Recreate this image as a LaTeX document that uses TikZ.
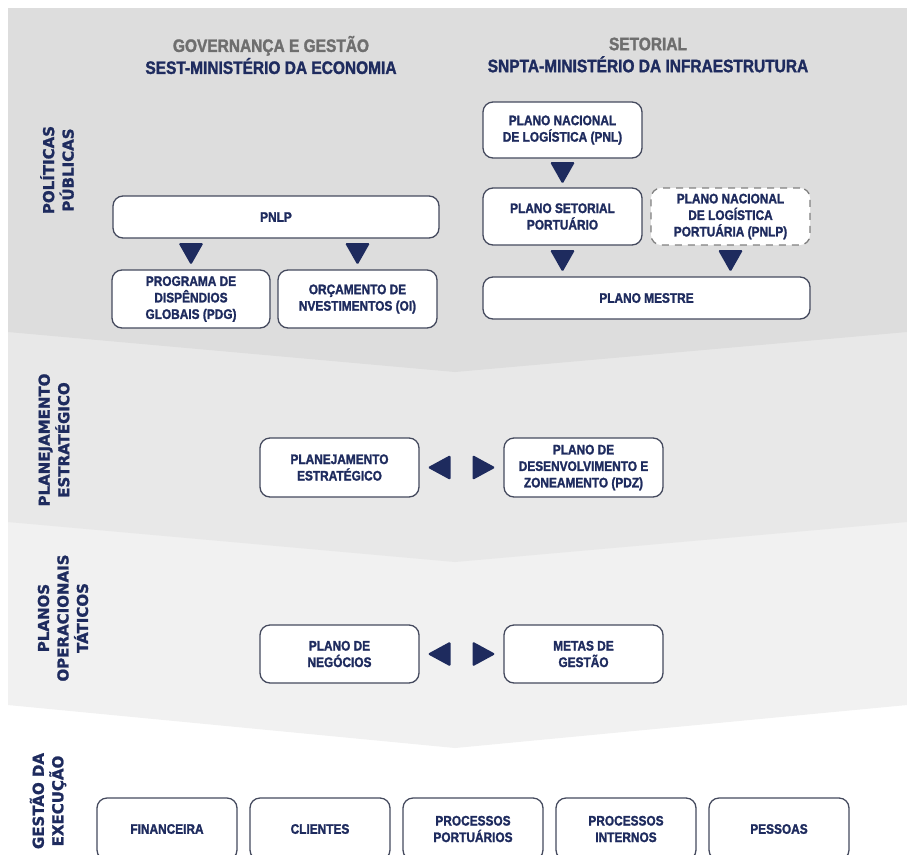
\documentclass[tikz,border=0pt]{standalone}
\usepackage{fontspec}
\setmainfont{Liberation Sans}
\newfontfamily\condfont[FakeStretch=0.86, FakeBold=1.6]{Liberation Sans Bold}
\newfontfamily\widefont[FakeBold=1.4]{DejaVu Sans Bold}
\usetikzlibrary{calc}

\definecolor{navy}{HTML}{1E2B5E}
\definecolor{boxline}{HTML}{454A5E}
\definecolor{headgrey}{HTML}{6E6E6E}
\definecolor{bandA}{HTML}{DDDDDD}
\definecolor{bandB}{HTML}{E8E8E8}
\definecolor{bandC}{HTML}{F1F1F1}

\tikzset{
  box/.style={draw=boxline, line width=1.3pt, fill=white, rounded corners=10pt,
    align=center, inner sep=0pt, text=navy,
    font=\condfont\fontsize{13.8}{16.5}\selectfont},
  dashbox/.style={box, draw=gray, dash pattern=on 7pt off 6pt},
  tri/.style={fill=navy, rounded corners=1.5pt},
  side/.style={rotate=90, align=center, text=navy,
    font=\widefont\fontsize{15}{19.5}\selectfont},
  head/.style={align=center, text=navy,
    font=\condfont\fontsize{18}{22}\selectfont},
}

\begin{document}
\begin{tikzpicture}[x=1pt, y=-1pt]
    % page and bands
    \useasboundingbox (0,0) rectangle (907,854);
    \clip (0,0) rectangle (907,854);
    \fill[white] (0,0) rectangle (907,854);
    \fill[bandC] (8,480) -- (907,480) -- (907,705) -- (455,748) -- (8,705) -- cycle;
    \fill[bandB] (8,300) -- (907,300) -- (907,522) -- (455,562) -- (8,522) -- cycle;
    \fill[bandA] (8,8) -- (907,8) -- (907,332) -- (455,372) -- (8,332) -- cycle;

    % column headers
    \node[head] (govhead) at (271,55) {{\color{headgrey}GOVERNANÇA E GESTÃO}\\SEST-MINISTÉRIO DA ECONOMIA};
    \node[head] (sethead) at (648,55) {{\color{headgrey}SETORIAL}\\SNPTA-MINISTÉRIO DA INFRAESTRUTURA};

    % row labels
    \node[side] (lblpol) at (57,170) {POLÍTICAS\\PÚBLICAS};
    \node[side] (lblplan) at (54,440) {PLANEJAMENTO\\ESTRATÉGICO};
    \node[side] (lblop) at (63,618) {PLANOS\\OPERACIONAIS\\TÁTICOS};
    \node[side] (lblgest) at (48,801) {GESTÃO DA\\EXECUÇÃO};

    % politicas publicas, left
    \node[box, minimum width=326pt, minimum height=42pt] (pnlp) at (276,217) {PNLP};
    \node[box, minimum width=158pt, minimum height=58pt] (pdg) at (191,299) {PROGRAMA DE\\DISPÊNDIOS\\GLOBAIS (PDG)};
    \node[box, minimum width=159pt, minimum height=58pt] (oi) at (357.5,299) {ORÇAMENTO DE\\NVESTIMENTOS (OI)};

    % politicas publicas, right
    \node[box, minimum width=159pt, minimum height=56pt] (pnl) at (562.5,130) {PLANO NACIONAL\\DE LOGÍSTICA (PNL)};
    \node[box, minimum width=159pt, minimum height=57pt] (pso) at (562.5,216.5) {PLANO SETORIAL\\PORTUÁRIO};
    \node[dashbox, minimum width=159pt, minimum height=57pt] (pnlpd) at (730.5,216.5) {PLANO NACIONAL\\DE LOGÍSTICA\\PORTUÁRIA (PNLP)};
    \node[box, minimum width=327pt, minimum height=42pt] (mestre) at (646.5,298) {PLANO MESTRE};

    % planejamento and planos
    \node[box, minimum width=159pt, minimum height=59pt] (pe) at (339.5,467.5) {PLANEJAMENTO\\ESTRATÉGICO};
    \node[box, minimum width=159pt, minimum height=59pt] (pdz) at (583.5,467.5) {PLANO DE\\DESENVOLVIMENTO E\\ZONEAMENTO (PDZ)};
    \node[box, minimum width=159pt, minimum height=58pt] (pneg) at (339.5,654) {PLANO DE\\NEGÓCIOS};
    \node[box, minimum width=159pt, minimum height=58pt] (metas) at (583.5,654) {METAS DE\\GESTÃO};

    % gestao da execucao
    \node[box, minimum width=140pt, minimum height=62pt] (fin) at (167,829) {FINANCEIRA};
    \node[box, minimum width=140pt, minimum height=62pt] (cli) at (320,829) {CLIENTES};
    \node[box, minimum width=140pt, minimum height=62pt] (pport) at (473,829) {PROCESSOS\\PORTUÁRIOS};
    \node[box, minimum width=140pt, minimum height=62pt] (pint) at (626,829) {PROCESSOS\\INTERNOS};
    \node[box, minimum width=140pt, minimum height=62pt] (pes) at (779,829) {PESSOAS};

    % down arrows
    \fill[tri] ($(pdg.north)!0.5!(pdg.north |- pnlp.south)$) ++(-12.5,-11) -- ++(25,0) -- ++(-12.5,22) -- cycle;
    \fill[tri] ($(oi.north)!0.5!(oi.north |- pnlp.south)$) ++(-12.5,-11) -- ++(25,0) -- ++(-12.5,22) -- cycle;
    \fill[tri] ($(pnl.south)!0.5!(pso.north)$) ++(-12.5,-11) -- ++(25,0) -- ++(-12.5,22) -- cycle;
    \fill[tri] ($(pso.south)!0.5!(pso.south |- mestre.north)$) ++(-12.5,-11) -- ++(25,0) -- ++(-12.5,22) -- cycle;
    \fill[tri] ($(pnlpd.south)!0.5!(pnlpd.south |- mestre.north)$) ++(-12.5,-11) -- ++(25,0) -- ++(-12.5,22) -- cycle;

    % side arrows
    \fill[tri] ($(pe.east)!0.5!(pdz.west)$) ++(-11,-12.5) -- ++(0,25) -- ++(-23,-12.5) -- cycle;
    \fill[tri] ($(pe.east)!0.5!(pdz.west)$) ++(11,-12.5) -- ++(0,25) -- ++(23,-12.5) -- cycle;
    \fill[tri] ($(pneg.east)!0.5!(metas.west)$) ++(-11,-12.5) -- ++(0,25) -- ++(-23,-12.5) -- cycle;
    \fill[tri] ($(pneg.east)!0.5!(metas.west)$) ++(11,-12.5) -- ++(0,25) -- ++(23,-12.5) -- cycle;
\end{tikzpicture}
\end{document}
